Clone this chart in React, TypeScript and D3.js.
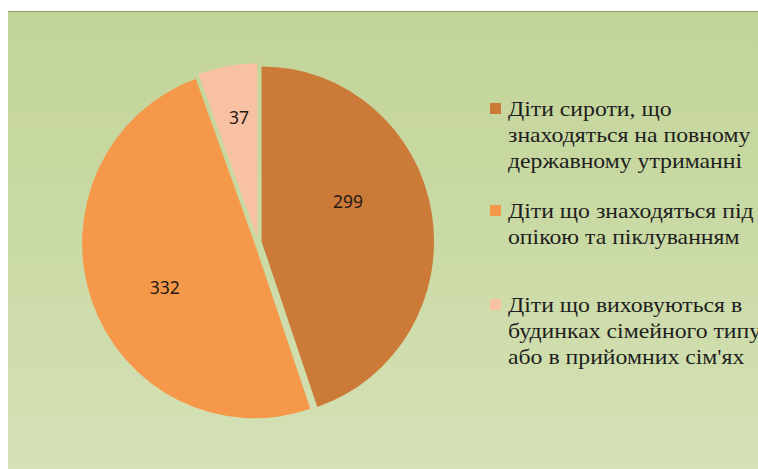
// @ts-nocheck
import * as d3 from "d3";
import React from "react";

const categories = [
  ["Діти сироти, що", "знаходяться на повному", "державному утриманні"],
  ["Діти що знаходяться під", "опікою та піклуванням"],
  ["Діти що виховуються в", "будинках сімейного типу", "або в прийомних сім'ях"],
];
const values = [299, 332, 37];
const colors = ["#CC7A38", "#F6984A", "#F8C1A3"];

// label placement tweaks (angle offset in rad, radius fraction)
const labelAngleShift = [-0.25, -0.11, 0.02];
const labelRadius = [0.57, 0.6, 0.72];
// legend baselines of first line per item
const legendTop = [116, 218, 312];

const App = ({ width = 758, height = 469 }) => {
  const cx = 258;
  const cy = 242;
  const r = 172.5;
  const ry = 1.0145;
  const explode = 3.6;

  const pie = d3.pie().sort(null).value((d) => d);
  const arcs = pie(values);
  const arc = d3.arc().innerRadius(0).outerRadius(r);

  return (
    <svg
      width={width}
      height={height}
      style={{ position: "absolute", left: 0, top: 0, display: "block" }}
    >
      <defs>
        <linearGradient id="bg" x1="0" y1="0" x2="0" y2="1">
          <stop offset="0" stopColor="#C3D499" />
          <stop offset="0.5" stopColor="#CADAA5" />
          <stop offset="1" stopColor="#D5E1B6" />
        </linearGradient>
      </defs>
      <rect width={width} height={height} fill="#fff" />
      <rect x={8} y={11} width={width - 8} height={height - 11} fill="url(#bg)" />
      <line x1={8} x2={width} y1={11.5} y2={11.5} stroke="#8E9C76" strokeWidth="1.2" />

      <g transform={`translate(${cx},${cy}) scale(1,${ry})`}>
        {arcs.map((a, i) => {
          const mid = (a.startAngle + a.endAngle) / 2;
          const dx = Math.sin(mid) * explode;
          const dy = -Math.cos(mid) * explode;
          return (
            <path
              key={i}
              d={arc(a)}
              fill={colors[i]}
              transform={`translate(${dx},${dy})`}
            />
          );
        })}
      </g>

      <g
        fontFamily="Noto Sans"
        fontSize="17.5"
        fill="#231A15"
        textAnchor="middle"
      >
        {arcs.map((a, i) => {
          const mid = (a.startAngle + a.endAngle) / 2 + labelAngleShift[i];
          const rr = r * labelRadius[i];
          return (
            <text
              key={i}
              x={cx + Math.sin(mid) * rr}
              y={cy - Math.cos(mid) * rr * ry}
              dy="0.35em"
            >
              {values[i]}
            </text>
          );
        })}
      </g>

      {categories.map((lines, i) => (
        <g key={i}>
          <rect x={490} y={legendTop[i] - 13} width={11} height={11} fill={colors[i]} />
          <g transform={`translate(508,0) scale(1.08,1)`}>
            {lines.map((t, j) => (
              <text
                key={j}
                x={0}
                y={legendTop[i] + j * 25.8}
                fontFamily="Liberation Serif"
                fontSize="22"
                fill="#1E1E1E"
              >
                {t}
              </text>
            ))}
          </g>
        </g>
      ))}
    </svg>
  );
};

export default App;
